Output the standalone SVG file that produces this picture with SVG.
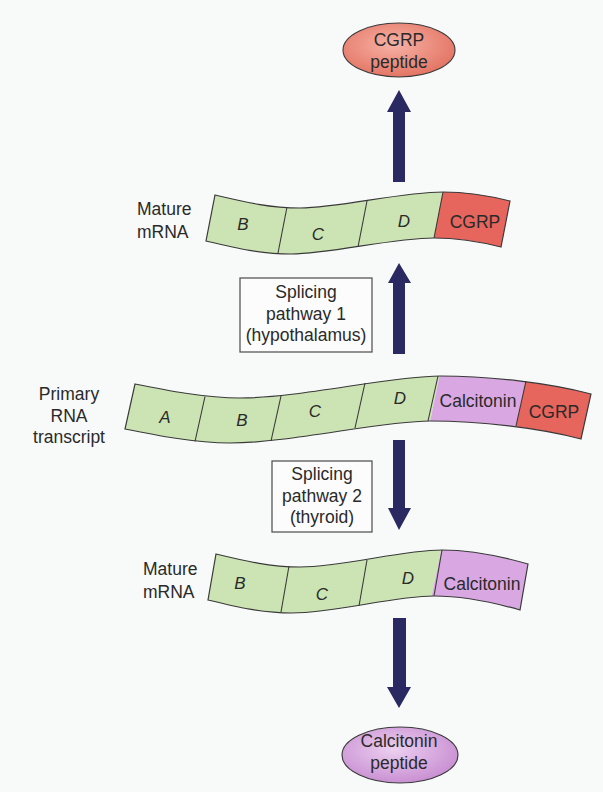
<svg xmlns="http://www.w3.org/2000/svg" width="603" height="792" viewBox="0 0 603 792">
<defs>
<style>
text{font-family:"Liberation Sans",Arial,sans-serif;fill:#2a2a2a;font-size:17.5px}
.mid{text-anchor:middle}
.it{font-style:italic;font-size:17px}
.outline{fill:none;stroke:#3a3a3a;stroke-width:1.2}
.div{stroke:#3a3a3a;stroke-width:1.1}
.green{fill:#cce4b3}
.red{fill:#e6655c}
.purple{fill:#d9a8e2}
.box{fill:#fcfcfc;stroke:#4a4a4a;stroke-width:1.2}
.arrow{fill:#2b2962}
</style>
<radialGradient id="gRed" cx="0.45" cy="0.4" r="0.65">
<stop offset="0" stop-color="#f6b2a6"/>
<stop offset="1" stop-color="#e2705f"/>
</radialGradient>
<radialGradient id="gPur" cx="0.45" cy="0.4" r="0.65">
<stop offset="0" stop-color="#ecd0f0"/>
<stop offset="1" stop-color="#c68ad0"/>
</radialGradient>
<clipPath id="cTop"><path d="M215,195 C245,202 270,208 300,208 C340,208 400,192 443,192 C470,192 490,196 510,201 L501,247 C481,242 461,238 434,238 C391,238 331,254 291,254 C261,254 236,248 206,241 Z"/></clipPath>
<clipPath id="cPri"><path d="M135,384 C165,390 205,398 240,398 C300,398 390,376 440,376 C490,376 550,383 591,394 L581,439 C540,428 480,421 430,421 C380,421 290,443 230,443 C195,443 155,435 125,429 Z"/></clipPath>
<clipPath id="cBot"><path d="M216,554 C245,561 270,567 300,567 C345,567 400,550 442,550 C470,550 500,556 528,564 L520,610 C492,602 462,596 434,596 C392,596 337,613 292,613 C262,613 237,607 208,600 Z"/></clipPath>
</defs>
<rect x="0" y="0" width="603" height="792" fill="#f8f9f9"/>

<g id="cgrp-peptide">
<ellipse cx="399" cy="50" rx="56" ry="27" fill="url(#gRed)" stroke="#3a3a3a" stroke-width="1.1"/>
<text class="mid" x="399" y="46">CGRP</text>
<text class="mid" x="399" y="68">peptide</text>
</g>

<g id="mature-mrna-cgrp">
<text x="137" y="215">Mature</text>
<text x="137" y="238">mRNA</text>
<g clip-path="url(#cTop)">
<polygon class="green" points="100,150 451,150 422,300 100,300"/>
<polygon class="red" points="451,150 600,150 600,300 422,300"/>
</g>
<path class="outline" d="M215,195 C245,202 270,208 300,208 C340,208 400,192 443,192 C470,192 490,196 510,201 L501,247 C481,242 461,238 434,238 C391,238 331,254 291,254 C261,254 236,248 206,241 Z"/>
<line class="div" x1="287" y1="207" x2="278" y2="253"/>
<line class="div" x1="367" y1="201" x2="358" y2="247"/>
<line class="div" x1="443" y1="192" x2="434" y2="238"/>
<text class="mid it" x="243" y="230">B</text>
<text class="mid it" x="318" y="240">C</text>
<text class="mid it" x="404" y="227">D</text>
<text class="mid" x="475" y="228">CGRP</text>
</g>

<g id="pathway1">
<rect class="box" x="240" y="278" width="132" height="74"/>
<text class="mid" x="306" y="298">Splicing</text>
<text class="mid" x="306" y="320">pathway 1</text>
<text class="mid" x="306" y="341">(hypothalamus)</text>
</g>

<g id="primary-transcript">
<text class="mid" x="69" y="400">Primary</text>
<text class="mid" x="69" y="422">RNA</text>
<text class="mid" x="69" y="443">transcript</text>
<g clip-path="url(#cPri)">
<polygon class="green" points="100,330 449,330 418,480 100,480"/>
<polygon class="purple" points="449,330 536,330 505,480 418,480"/>
<polygon class="red" points="536,330 603,330 603,480 505,480"/>
</g>
<path class="outline" d="M135,384 C165,390 205,398 240,398 C300,398 390,376 440,376 C490,376 550,383 591,394 L581,439 C540,428 480,421 430,421 C380,421 290,443 230,443 C195,443 155,435 125,429 Z"/>
<line class="div" x1="205" y1="396.5" x2="195" y2="441.5"/>
<line class="div" x1="281" y1="396" x2="271" y2="441"/>
<line class="div" x1="365" y1="383" x2="355" y2="428"/>
<line class="div" x1="438" y1="376" x2="428" y2="421"/>
<line class="div" x1="526" y1="381" x2="516" y2="426"/>
<text class="mid it" x="165" y="423">A</text>
<text class="mid it" x="242" y="426">B</text>
<text class="mid it" x="315" y="417">C</text>
<text class="mid it" x="400" y="404">D</text>
<text class="mid" x="478" y="407">Calcitonin</text>
<text class="mid" x="554" y="418">CGRP</text>
</g>

<g id="pathway2">
<rect class="box" x="272" y="461" width="100" height="71"/>
<text class="mid" x="322" y="480">Splicing</text>
<text class="mid" x="322" y="502">pathway 2</text>
<text class="mid" x="322" y="523">(thyroid)</text>
</g>

<g id="mature-mrna-calcitonin">
<text x="143" y="575">Mature</text>
<text x="143" y="598">mRNA</text>
<g clip-path="url(#cBot)">
<polygon class="green" points="100,510 450,510 420,650 100,650"/>
<polygon class="purple" points="450,510 603,510 603,650 420,650"/>
</g>
<path class="outline" d="M216,554 C245,561 270,567 300,567 C345,567 400,550 442,550 C470,550 500,556 528,564 L520,610 C492,602 462,596 434,596 C392,596 337,613 292,613 C262,613 237,607 208,600 Z"/>
<line class="div" x1="289" y1="566" x2="281" y2="612"/>
<line class="div" x1="367" y1="560" x2="359" y2="606"/>
<line class="div" x1="442" y1="550" x2="434" y2="596"/>
<text class="mid it" x="240" y="589">B</text>
<text class="mid it" x="322" y="600">C</text>
<text class="mid it" x="408" y="584">D</text>
<text class="mid" x="482" y="590">Calcitonin</text>
</g>

<g id="calcitonin-peptide">
<ellipse cx="400" cy="755" rx="58" ry="28" fill="url(#gPur)" stroke="#3a3a3a" stroke-width="1.1"/>
<text class="mid" x="399" y="747">Calcitonin</text>
<text class="mid" x="399" y="769">peptide</text>
</g>

<g id="connectors">
<path class="arrow" d="M393,182 L393,112 L387,112 L399,90 L411,112 L405,112 L405,182 Z"/>
<path class="arrow" d="M393,354 L393,283 L388,283 L399,263 L411,283 L405,283 L405,354 Z"/>
<path class="arrow" d="M393,440 L393,508 L388,508 L399,530 L411,508 L405,508 L405,440 Z"/>
<path class="arrow" d="M393,618 L393,687 L387,687 L399,708 L411,687 L406,687 L406,618 Z"/>
</g>
</svg>
